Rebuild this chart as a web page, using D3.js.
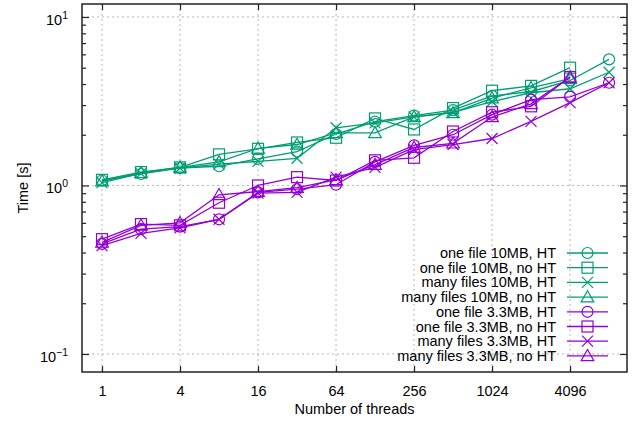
<!DOCTYPE html>
<html>
<head>
<meta charset="utf-8">
<script src="https://cdn.jsdelivr.net/npm/d3@7/dist/d3.min.js"></script>
<style>
  html, body { margin: 0; padding: 0; background: #fff; }
  svg { display: block; font-family: "Liberation Sans", Arial, sans-serif; }
</style>
</head>
<body>
<svg id="chart" width="634" height="421"></svg>
<script>
// Thread counts on the x axis (powers of two)
const threads = [1, 2, 4, 8, 16, 32, 64, 128, 256, 512, 1024, 2048, 4096, 8192];
const xTickValues = [1, 4, 16, 64, 256, 1024, 4096];
const yTickValues = [0.1, 1, 10];

// Run times in seconds; HT runs go one step further (8192 threads)
const oneFile10HT     = [1.07, 1.17, 1.27, 1.30, 1.44, 1.59, 2.02, 2.39, 2.60, 2.80, 3.40, 3.60, 4.20, 5.60];
const oneFile10NoHT   = [1.08, 1.20, 1.28, 1.53, 1.65, 1.80, 1.92, 2.50, 2.15, 2.88, 3.65, 3.90, 5.00];
const manyFiles10HT   = [1.04, 1.18, 1.27, 1.34, 1.39, 1.45, 2.20, 2.35, 2.55, 2.72, 3.15, 3.55, 3.75, 4.70];
const manyFiles10NoHT = [1.06, 1.19, 1.28, 1.38, 1.66, 1.75, 2.05, 2.05, 2.55, 2.70, 3.30, 3.80, 4.30];
const oneFile33HT     = [0.45, 0.55, 0.57, 0.63, 0.91, 0.95, 1.01, 1.38, 1.73, 2.00, 2.63, 3.23, 3.36, 4.07];
const oneFile33NoHT   = [0.48, 0.59, 0.58, 0.79, 1.00, 1.12, 1.07, 1.41, 1.46, 2.09, 2.72, 2.95, 4.40];
const manyFiles33HT   = [0.44, 0.52, 0.56, 0.63, 0.90, 0.91, 1.12, 1.28, 1.63, 1.75, 1.90, 2.40, 3.10, 4.07];
const manyFiles33NoHT = [0.46, 0.58, 0.60, 0.88, 0.92, 0.97, 1.08, 1.33, 1.68, 1.78, 2.55, 3.05, 4.40];

const seriesNames = [
  "one file 10MB, HT", "one file 10MB, no HT", "many files 10MB, HT", "many files 10MB, no HT",
  "one file 3.3MB, HT", "one file 3.3MB, no HT", "many files 3.3MB, HT", "many files 3.3MB, no HT"
];
const seriesValues = [oneFile10HT, oneFile10NoHT, manyFiles10HT, manyFiles10NoHT,
                      oneFile33HT, oneFile33NoHT, manyFiles33HT, manyFiles33NoHT];
const seriesColors = ["#009e73", "#009e73", "#009e73", "#009e73",
                      "#9400d3", "#9400d3", "#9400d3", "#9400d3"];
const seriesShapes = ["circle", "square", "cross", "triangle",
                      "circle", "square", "cross", "triangle"];

const svg = d3.select("#chart");
const plot = { left: 82, right: 627, top: 4, bottom: 372 };

const x = d3.scaleLog().base(2)
  .domain([Math.pow(2, -0.513), Math.pow(2, 13.46)])
  .range([plot.left, plot.right]);
const y = d3.scaleLog()
  .domain([Math.pow(10, -1.107), Math.pow(10, 1.077)])
  .range([plot.bottom, plot.top]);

const FONT = 14.5;

// Dotted grid at the major ticks
const grid = svg.append("g").attr("stroke", "#b4b4b4").attr("stroke-width", 1)
  .attr("stroke-dasharray", "2,3");
xTickValues.forEach(v => {
  grid.append("line").attr("x1", x(v)).attr("x2", x(v))
    .attr("y1", plot.top).attr("y2", plot.bottom);
});
yTickValues.forEach(v => {
  grid.append("line").attr("x1", plot.left).attr("x2", plot.right)
    .attr("y1", y(v)).attr("y2", y(v));
});

// Axes: ticks point inwards and are mirrored on the opposite side
const yMinor = [];
[0.1, 1].forEach(d => { for (let k = 2; k <= 9; k++) yMinor.push(d * k); });

const axisBottom = d3.axisBottom(x).tickValues(xTickValues).tickFormat(d3.format("d"))
  .tickSizeInner(-6).tickSizeOuter(0).tickPadding(14);
const axisTop = d3.axisTop(x).tickValues(xTickValues).tickFormat("")
  .tickSizeInner(-6).tickSizeOuter(0);
const axisLeft = d3.axisLeft(y).tickValues(yTickValues).tickFormat("")
  .tickSizeInner(-7).tickSizeOuter(0);
const axisRight = d3.axisRight(y).tickValues(yTickValues).tickFormat("")
  .tickSizeInner(-7).tickSizeOuter(0);
const axisLeftMinor = d3.axisLeft(y).tickValues(yMinor).tickFormat("")
  .tickSizeInner(-4).tickSizeOuter(0);
const axisRightMinor = d3.axisRight(y).tickValues(yMinor).tickFormat("")
  .tickSizeInner(-4).tickSizeOuter(0);

function styleAxis(g) {
  g.select(".domain").remove();
  g.selectAll(".tick line").attr("stroke", "#222").attr("stroke-width", 1.2);
  g.selectAll(".tick text").attr("fill", "#000").attr("font-size", FONT)
    .attr("font-family", "Liberation Sans, Arial, sans-serif");
}

svg.append("g").attr("transform", `translate(0,${plot.bottom})`).call(axisBottom).call(styleAxis);
svg.append("g").attr("transform", `translate(0,${plot.top})`).call(axisTop).call(styleAxis);
svg.append("g").attr("transform", `translate(${plot.left},0)`).call(axisLeft).call(styleAxis);
svg.append("g").attr("transform", `translate(${plot.right},0)`).call(axisRight).call(styleAxis);
svg.append("g").attr("transform", `translate(${plot.left},0)`).call(axisLeftMinor).call(styleAxis);
svg.append("g").attr("transform", `translate(${plot.right},0)`).call(axisRightMinor).call(styleAxis);

// Power-of-ten labels on the y axis
const yLabels = svg.append("g").attr("font-size", FONT).attr("fill", "#000");
yTickValues.forEach(v => {
  const exp = Math.round(Math.log10(v));
  const t = yLabels.append("text")
    .attr("x", 68).attr("y", y(v) + 8)
    .attr("text-anchor", "end");
  t.append("tspan").text("10");
  t.append("tspan").attr("font-size", FONT * 0.72).attr("dy", -6)
    .text(exp < 0 ? "\u2212" + Math.abs(exp) : String(exp));
});

// Frame
svg.append("rect")
  .attr("x", plot.left).attr("y", plot.top)
  .attr("width", plot.right - plot.left).attr("height", plot.bottom - plot.top)
  .attr("fill", "none").attr("stroke", "#222").attr("stroke-width", 1.5);

// Axis titles
svg.append("text")
  .attr("x", (plot.left + plot.right) / 2 + 0).attr("y", 414)
  .attr("text-anchor", "middle").attr("font-size", FONT)
  .text("Number of threads");
svg.append("text")
  .attr("transform", `translate(28,${(plot.top + plot.bottom) / 2}) rotate(-90)`)
  .attr("text-anchor", "middle").attr("font-size", FONT)
  .text("Time [s]");

// Point markers
function drawMarker(g, shape, cx, cy, color) {
  const s = 5.5;
  if (shape === "circle") {
    g.append("circle").attr("cx", cx).attr("cy", cy).attr("r", s)
      .attr("fill", "none").attr("stroke", color).attr("stroke-width", 1.2);
  } else if (shape === "square") {
    g.append("rect").attr("x", cx - s).attr("y", cy - s)
      .attr("width", 2 * s).attr("height", 2 * s)
      .attr("fill", "none").attr("stroke", color).attr("stroke-width", 1.2);
  } else if (shape === "cross") {
    g.append("path")
      .attr("d", `M${cx - s},${cy - s}L${cx + s},${cy + s}M${cx - s},${cy + s}L${cx + s},${cy - s}`)
      .attr("stroke", color).attr("stroke-width", 1.2).attr("fill", "none");
  } else if (shape === "triangle") {
    const h = s * 1.15;
    g.append("path")
      .attr("d", `M${cx},${cy - h}L${cx + h},${cy + h * 0.75}L${cx - h},${cy + h * 0.75}Z`)
      .attr("stroke", color).attr("stroke-width", 1.2).attr("fill", "none");
  }
}

const line = d3.line().x(d => x(d[0])).y(d => y(d[1]));
const plotArea = svg.append("g");
seriesValues.forEach((vals, i) => {
  const pts = vals.map((v, j) => [threads[j], v]);
  const g = plotArea.append("g");
  g.append("path").datum(pts).attr("d", line)
    .attr("fill", "none").attr("stroke", seriesColors[i]).attr("stroke-width", 1.3);
  pts.forEach(p => drawMarker(g, seriesShapes[i], x(p[0]), y(p[1]), seriesColors[i]));
});

// Legend
const legend = svg.append("g").attr("font-size", FONT);
seriesNames.forEach((name, i) => {
  const ly = 253 + i * 14.7;
  legend.append("text").attr("x", 556).attr("y", ly + 5)
    .attr("text-anchor", "end").attr("fill", "#000").text(name);
  legend.append("line").attr("x1", 567).attr("x2", 608).attr("y1", ly).attr("y2", ly)
    .attr("stroke", seriesColors[i]).attr("stroke-width", 1.3);
  drawMarker(legend, seriesShapes[i], 587.5, ly, seriesColors[i]);
});
</script>
</body>
</html>
